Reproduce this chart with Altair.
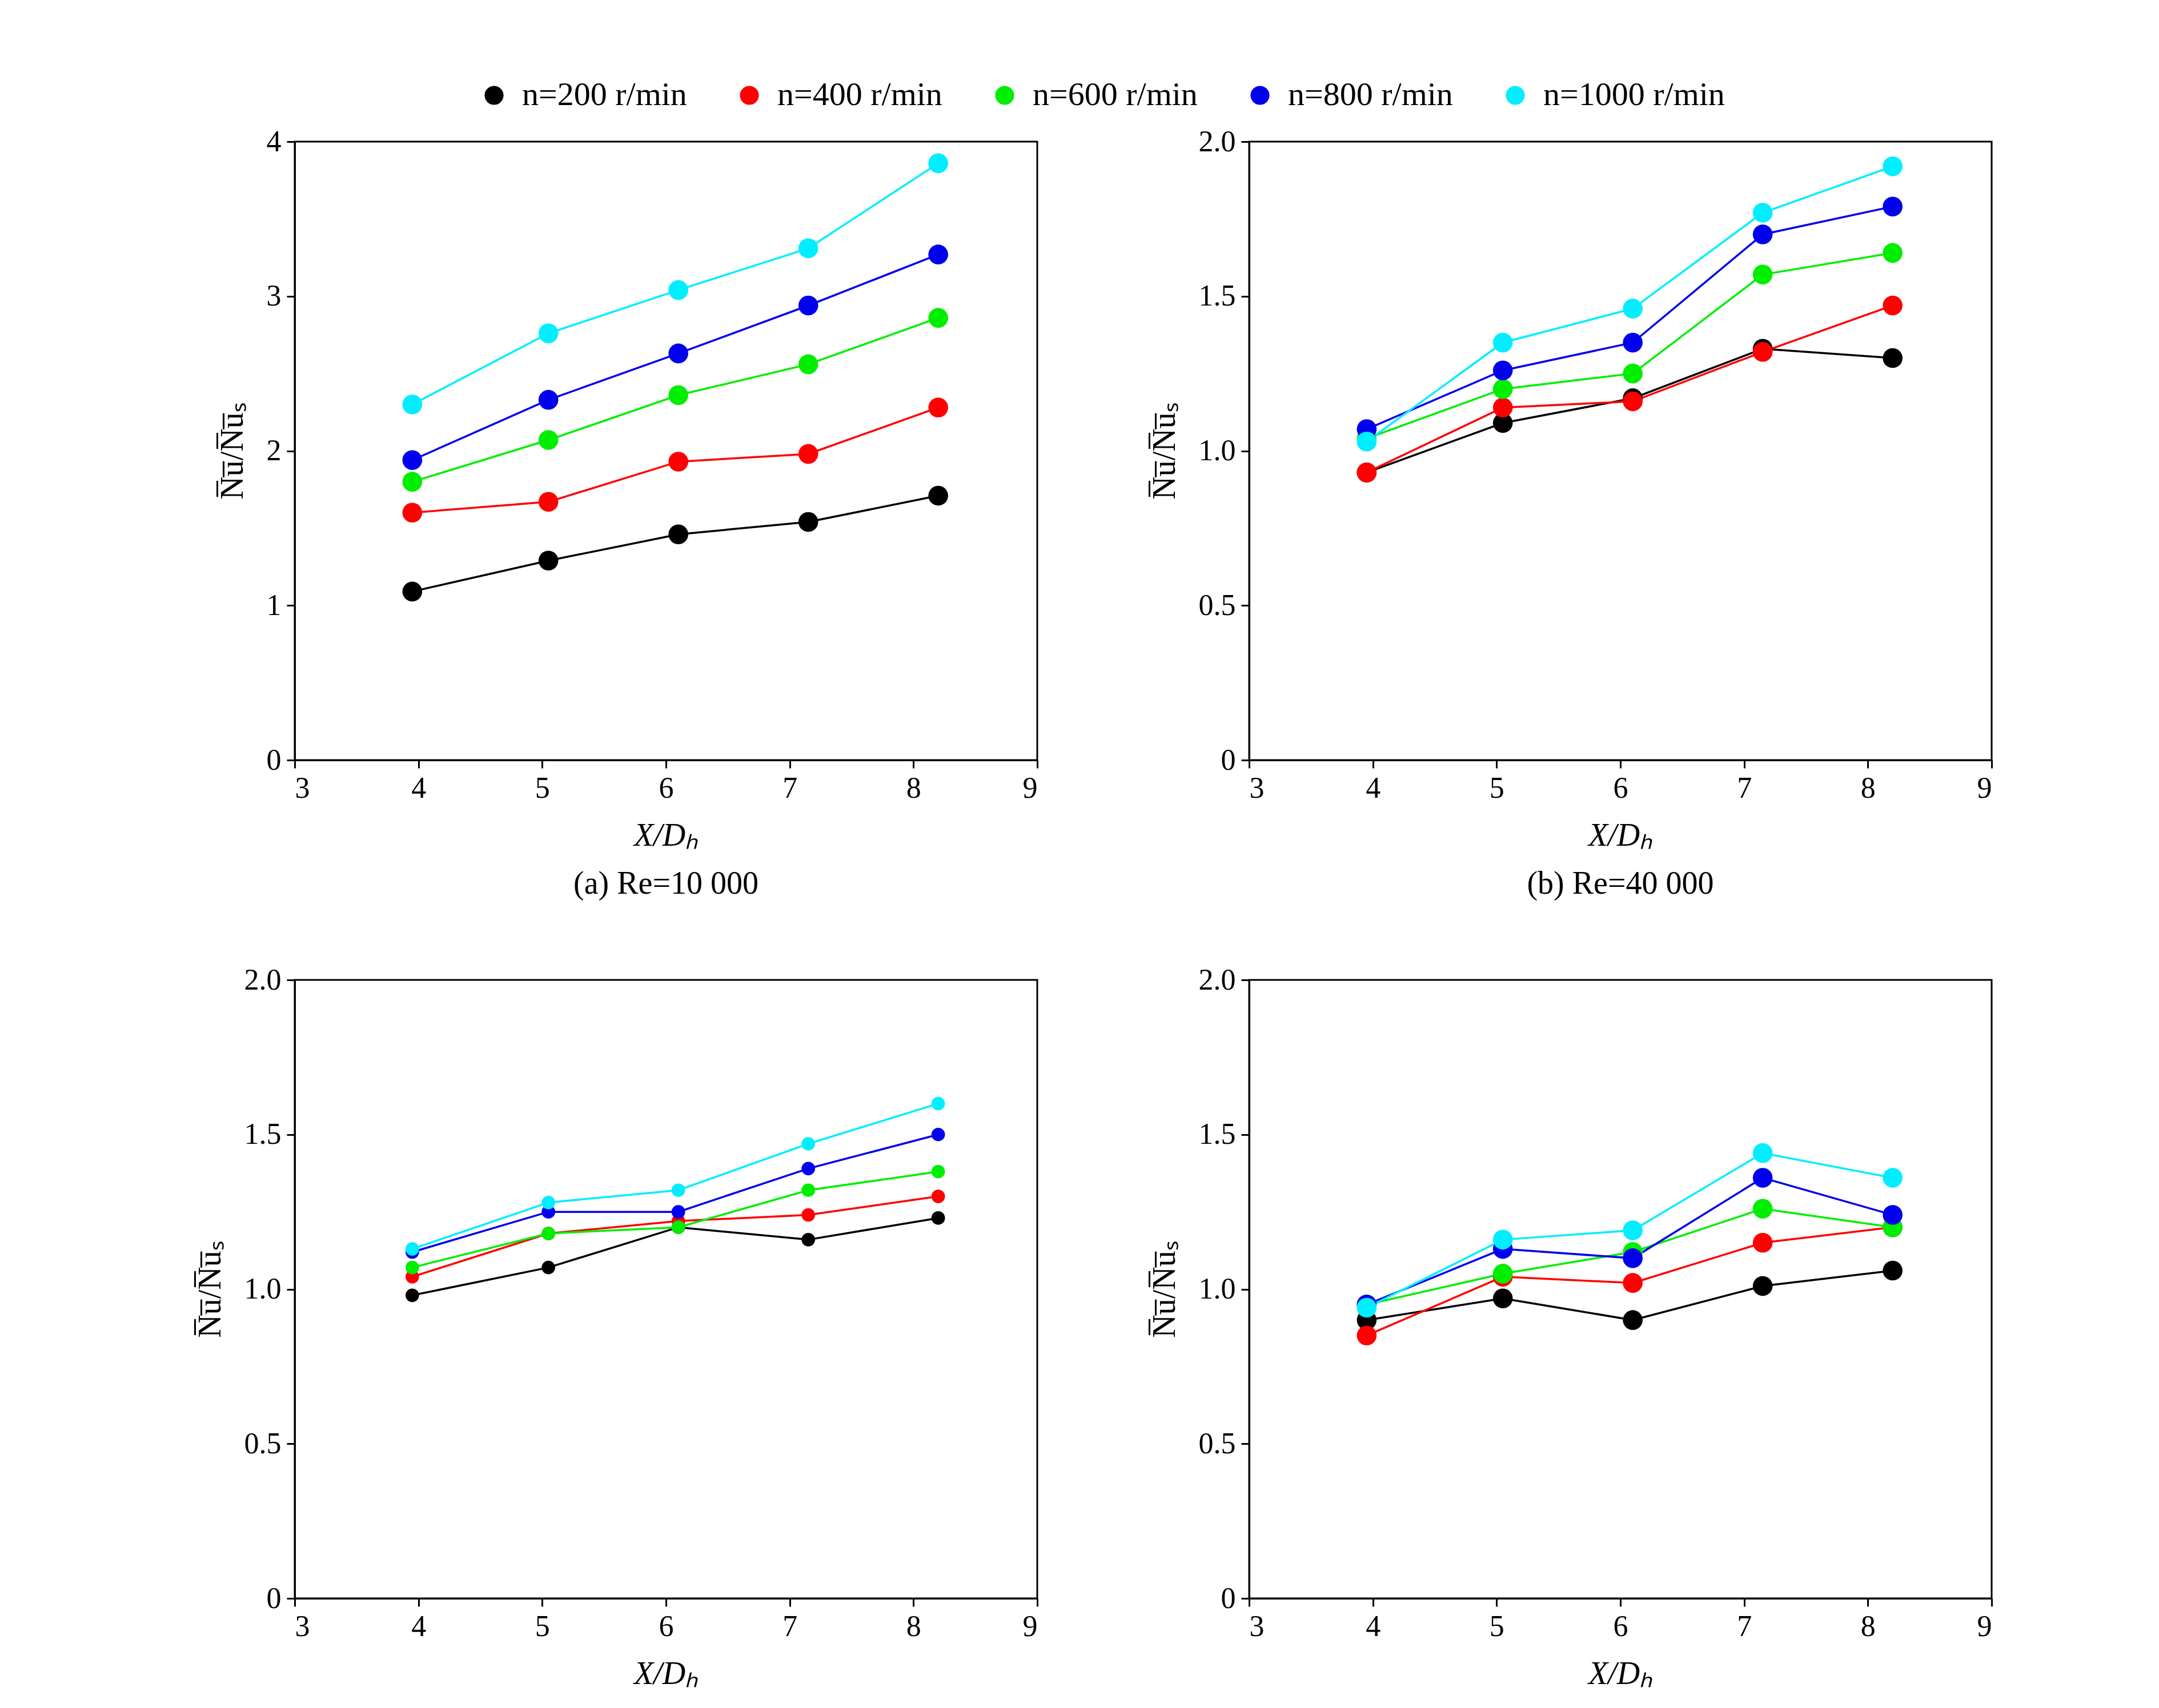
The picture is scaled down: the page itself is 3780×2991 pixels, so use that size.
import pandas as pd
import altair as alt

X_POS = [3.95, 5.05, 6.1, 7.15, 8.2]
SERIES = ["n=200 r/min", "n=400 r/min", "n=600 r/min", "n=800 r/min", "n=1000 r/min"]
COLORS = ["#000000", "#ff0000", "#00ee00", "#0000ee", "#00eeff"]

RE10K = {
    "n=200 r/min": [1.09, 1.29, 1.46, 1.54, 1.71],
    "n=400 r/min": [1.60, 1.67, 1.93, 1.98, 2.28],
    "n=600 r/min": [1.80, 2.07, 2.36, 2.56, 2.86],
    "n=800 r/min": [1.94, 2.33, 2.63, 2.94, 3.27],
    "n=1000 r/min": [2.30, 2.76, 3.04, 3.31, 3.86],
}
RE40K = {
    "n=200 r/min": [0.93, 1.09, 1.17, 1.33, 1.30],
    "n=400 r/min": [0.93, 1.14, 1.16, 1.32, 1.47],
    "n=600 r/min": [1.04, 1.20, 1.25, 1.57, 1.64],
    "n=800 r/min": [1.07, 1.26, 1.35, 1.70, 1.79],
    "n=1000 r/min": [1.03, 1.35, 1.46, 1.77, 1.92],
}
RE60K = {
    "n=200 r/min": [0.98, 1.07, 1.20, 1.16, 1.23],
    "n=400 r/min": [1.04, 1.18, 1.22, 1.24, 1.30],
    "n=600 r/min": [1.07, 1.18, 1.20, 1.32, 1.38],
    "n=800 r/min": [1.12, 1.25, 1.25, 1.39, 1.50],
    "n=1000 r/min": [1.13, 1.28, 1.32, 1.47, 1.60],
}
RE80K = {
    "n=200 r/min": [0.90, 0.97, 0.90, 1.01, 1.06],
    "n=400 r/min": [0.85, 1.04, 1.02, 1.15, 1.20],
    "n=600 r/min": [0.95, 1.05, 1.12, 1.26, 1.20],
    "n=800 r/min": [0.95, 1.13, 1.10, 1.36, 1.24],
    "n=1000 r/min": [0.94, 1.16, 1.19, 1.44, 1.36],
}

FONT = "Liberation Serif"
Y_TITLE = "N\u0305u\u0305/N\u0305u\u0305\u209b"
X_TITLE = "X/D\u2095"


def panel(values, caption, ymax, ytick_step, fmt, msize):
    rows = []
    for s in SERIES:
        for x, y in zip(X_POS, values[s]):
            rows.append({"x": x, "y": y, "series": s})
    df = pd.DataFrame(rows)
    ticks = [i * ytick_step for i in range(int(round(ymax / ytick_step)) + 1)]
    color = alt.Color(
        "series:N",
        scale=alt.Scale(domain=SERIES, range=COLORS),
        legend=alt.Legend(title=None),
    )
    x = alt.X(
        "x:Q",
        scale=alt.Scale(domain=[3, 9], nice=False),
        axis=alt.Axis(values=[3, 4, 5, 6, 7, 8, 9], title=X_TITLE, titleFontStyle="italic"),
    )
    y = alt.Y(
        "y:Q",
        scale=alt.Scale(domain=[0, ymax], nice=False),
        axis=alt.Axis(
            values=ticks,
            title=Y_TITLE,
            labelExpr=f"datum.value == 0 ? '0' : format(datum.value, '{fmt}')",
        ),
    )
    base = alt.Chart(df).encode(x=x, y=y, color=color, detail="series:N")
    lines = base.mark_line(strokeWidth=3.5)
    pts = base.mark_point(filled=True, opacity=1, size=msize)
    return (lines + pts).properties(
        width=1300,
        height=1083,
        title=alt.TitleParams(caption, orient="bottom", fontSize=56, font=FONT,
                              fontWeight="normal", offset=30),
    )


a = panel(RE10K, "(a) Re=10 000", 4, 1, "d", 1200)
b = panel(RE40K, "(b) Re=40 000", 2, 0.5, ".1f", 1200)
c = panel(RE60K, "(c) Re=60 000", 2, 0.5, ".1f", 560)
d = panel(RE80K, "(d) Re=80 000", 2, 0.5, ".1f", 1200)

chart = (
    alt.vconcat(alt.hconcat(a, b, spacing=190), alt.hconcat(c, d, spacing=190), spacing=110)
    .properties(padding={"left": 330, "top": 130, "right": 30, "bottom": 30})
    .configure_view(stroke="black", strokeWidth=3)
    .configure_axis(
        labelFont=FONT, titleFont=FONT, labelFontSize=52, titleFontSize=56,
        titleFontWeight="normal", labelColor="black", titleColor="black",
        domainColor="black", tickColor="black", tickSize=14, tickWidth=3,
        domainWidth=3, grid=False, labelPadding=10, titlePadding=30,
    )
    .configure_legend(
        orient="none", legendX=320, legendY=-110, direction="horizontal",
        labelFont=FONT, labelFontSize=58, symbolSize=1000, symbolType="circle",
        columnPadding=80, labelLimit=0, labelOffset=20,
    )
)

chart.save("out.html", embed_options={"renderer": "svg", "actions": False})
